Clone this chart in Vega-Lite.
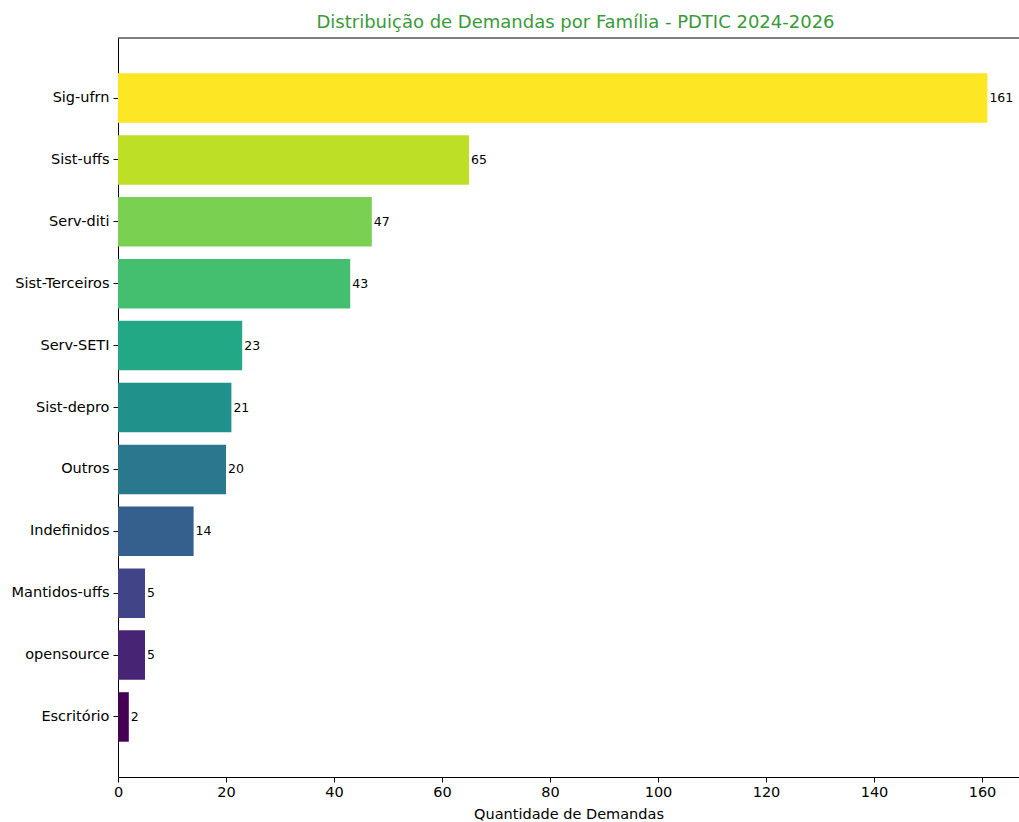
{
  "$schema": "https://vega.github.io/schema/vega-lite/v6.json",
  "autosize": {"type": "none"},
  "padding": {"left": 118, "top": 38, "right": 0, "bottom": 45},
  "width": 901,
  "height": 739,
  "background": "white",
  "config": {
    "font": "DejaVu Sans",
    "view": {"stroke": null}
  },
  "title": {
    "text": "Distribuição de Demandas por Família - PDTIC 2024-2026",
    "color": "#3a9a3a",
    "fontSize": 18,
    "fontWeight": "normal",
    "font": "DejaVu Sans",
    "anchor": "middle",
    "frame": "group",
    "dx": 7,
    "offset": 6
  },
  "data": {
    "values": [
      {"familia": "Sig-ufrn", "qtd": 161},
      {"familia": "Sist-uffs", "qtd": 65},
      {"familia": "Serv-diti", "qtd": 47},
      {"familia": "Sist-Terceiros", "qtd": 43},
      {"familia": "Serv-SETI", "qtd": 23},
      {"familia": "Sist-depro", "qtd": 21},
      {"familia": "Outros", "qtd": 20},
      {"familia": "Indefinidos", "qtd": 14},
      {"familia": "Mantidos-uffs", "qtd": 5},
      {"familia": "opensource", "qtd": 5},
      {"familia": "Escritório", "qtd": 2}
    ]
  },
  "encoding": {
    "y": {
      "field": "familia",
      "type": "nominal",
      "sort": null,
      "scale": {"paddingInner": 0.2, "paddingOuter": 0.57},
      "axis": {
        "title": null,
        "labelFontSize": 14.5,
        "labelColor": "#000000",
        "labelPadding": 4,
        "tickColor": "#000000",
        "tickSize": 5,
        "domainColor": "#000000",
        "domainWidth": 1,
        "offset": 0
      }
    },
    "x": {
      "field": "qtd",
      "type": "quantitative",
      "scale": {"domain": [0, 166.85], "nice": false, "zero": true},
      "axis": {
        "title": "Quantidade de Demandas",
        "titleFontSize": 14.5,
        "titleFontWeight": "normal",
        "titleColor": "#000000",
        "titlePadding": 9,
        "values": [0, 20, 40, 60, 80, 100, 120, 140, 160],
        "labelFontSize": 14.5,
        "labelColor": "#000000",
        "labelPadding": 3,
        "tickColor": "#000000",
        "tickSize": 5,
        "domainColor": "#000000",
        "grid": false,
        "labelFlush": false
      }
    }
  },
  "layer": [
    {
      "mark": {"type": "rule", "color": "#000000", "strokeWidth": 1},
      "data": {"values": [{"a": 1}]},
      "encoding": {
        "y": {"value": 0},
        "x": {"value": 0},
        "x2": {"value": 901}
      }
    },
    {
      "mark": {"type": "bar"},
      "encoding": {
        "color": {
          "field": "familia",
          "type": "nominal",
          "legend": null,
          "scale": {
            "domain": ["Sig-ufrn", "Sist-uffs", "Serv-diti", "Sist-Terceiros", "Serv-SETI", "Sist-depro", "Outros", "Indefinidos", "Mantidos-uffs", "opensource", "Escritório"],
            "range": ["#fde725", "#bddf26", "#7ad151", "#44bf70", "#22a884", "#21918c", "#2a788e", "#355f8d", "#414487", "#482475", "#440154"]
          }
        }
      }
    },
    {
      "mark": {"type": "text", "align": "left", "baseline": "middle", "dx": 2, "fontSize": 12.5, "color": "#000000"},
      "encoding": {
        "text": {"field": "qtd", "type": "quantitative"}
      }
    }
  ]
}
